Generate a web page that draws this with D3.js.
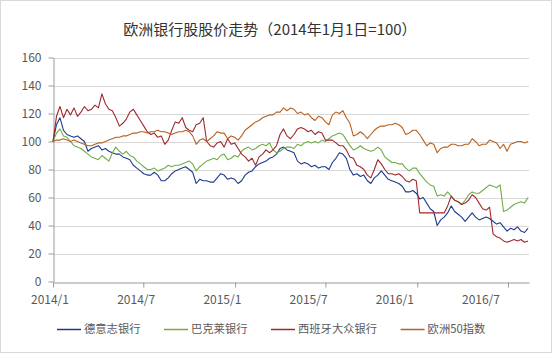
<!DOCTYPE html>
<html>
<head>
<meta charset="utf-8">
<script src="https://cdn.jsdelivr.net/npm/d3@7"></script>
<style>
  body { margin: 0; background: #fff; }
  text { font-family: "Noto Sans CJK SC", "Noto Sans", sans-serif; }
</style>
</head>
<body>
<div id="chart"></div>
<script>
// weekly closes, rebased so that 2014/1/1 = 100
const startDate = "2014-01-01";
const endDate = "2016-08-12";
const tickDates = ["2014-01-01", "2014-07-01", "2015-01-01", "2015-07-01", "2016-01-01", "2016-07-01"];
const tickLabels = ["2014/1", "2014/7", "2015/1", "2015/7", "2016/1", "2016/7"];
const yTicks = [0, 20, 40, 60, 80, 100, 120, 140, 160];

const seriesNames = ["德意志银行", "巴克莱银行", "西班牙大众银行", "欧洲50指数"];
const seriesColors = ["#1f3a8f", "#70ad47", "#a0282c", "#b8601c"];

const deutsche = [
  100, 112, 117, 108, 105, 104, 103, 104, 102, 100, 93, 95, 96, 97, 94, 95, 93, 92, 91, 91,
  89, 88, 87, 83, 81, 79, 77, 76, 76, 78, 76, 72, 72, 74, 77,
  79, 80, 81, 82, 80, 78, 70, 73, 72, 72, 71, 71, 74, 77, 76, 73, 74, 73, 70, 72,
  76, 78, 79, 82, 84, 85, 86, 88, 89, 91, 95, 96, 94,
  93, 92, 86, 84, 85, 84, 82, 83, 81, 82, 82, 80, 85, 88, 92, 91, 88, 80, 76, 77,
  75, 76, 72, 70, 74, 76, 79, 76, 73, 72, 71, 70, 68, 64, 64,
  65, 63, 59, 60, 56, 52, 50, 40, 44, 46, 49, 54, 50, 48, 46, 43, 46, 49, 46, 44,
  45, 46, 45, 43, 41, 42, 39, 36, 38, 37, 39, 36, 35, 38
];
const barclays = [
  100, 106, 109, 104, 103, 100, 97, 96, 95, 93, 91, 89, 88, 87, 90, 88, 86, 92, 96, 93,
  91, 93, 90, 89, 86, 84, 82, 80, 80, 81, 79, 80, 81, 83, 82,
  83, 83, 84, 85, 86, 84, 79, 82, 84, 86, 87, 88, 87, 90, 91, 87, 88, 90, 89, 93,
  95, 96, 94, 95, 97, 98, 97, 99, 94, 92, 93, 95, 96,
  96, 95, 98, 97, 99, 100, 99, 100, 99, 101, 100, 102, 104, 105, 106, 105, 101, 97, 94, 95,
  97, 95, 94, 93, 94, 96, 94, 89, 87, 85, 85, 84, 84, 81, 79,
  81, 81, 77, 74, 71, 69, 68, 61, 62, 61, 64, 61, 58, 57, 55, 58, 62, 64, 63, 63,
  65, 67, 69, 68, 67, 69, 50, 51, 53, 55, 56, 57, 56, 60
];
const popular = [
  100, 118, 125, 117, 123, 119, 124, 118, 121, 125, 122, 123, 126, 124, 134, 127, 123, 122, 117, 111,
  113, 116, 121, 123, 119, 115, 111, 107, 105, 106, 103, 104, 98, 101, 108,
  114, 113, 117, 110, 108, 107, 112, 113, 117, 100, 97, 96, 99, 100, 96, 102, 98, 99, 95, 91,
  89, 86, 88, 83, 89, 91, 94, 92, 94, 97, 105, 109, 104,
  102, 105, 109, 110, 109, 107, 108, 105, 107, 106, 101, 101, 101, 99, 97, 97, 94, 89, 88, 83,
  82, 80, 76, 74, 80, 87, 84, 80, 77, 77, 76, 77, 75, 72, 71,
  73, 72, 49, 49, 49, 49, 49, 49, 49, 49, 54, 61, 58, 57, 55, 56, 58, 62, 60, 56,
  52, 51, 53, 34, 32, 31, 29, 28, 29, 30, 29, 30, 28, 29
];
const stoxx50 = [
  100, 101, 101, 102, 101, 100, 101, 100, 99, 98, 97, 97, 98, 99, 99, 100, 101, 102, 103, 103,
  104, 104, 105, 106, 106, 107, 107, 106, 107, 107, 108, 107, 107, 106, 105,
  106, 107, 107, 108, 107, 104, 98, 101, 102, 100, 102, 104, 107, 106, 106, 102, 104, 103, 101, 104,
  108, 110, 112, 114, 115, 117, 118, 119, 119, 121, 121, 124, 122,
  124, 123, 120, 121, 119, 120, 117, 115, 118, 117, 114, 112, 119, 121, 120, 122, 117, 113, 104, 105,
  107, 105, 102, 105, 108, 110, 111, 111, 112, 112, 113, 112, 110, 105, 106,
  108, 108, 105, 101, 97, 99, 98, 92, 95, 96, 96, 98, 98, 97, 97, 98, 98, 102, 100, 97,
  98, 98, 101, 100, 99, 95, 98, 93, 98, 99, 100, 100, 99, 100
];

const width = 552, height = 353;
const parse = d3.timeParse("%Y-%m-%d");
const start = parse(startDate);

const series = [deutsche, barclays, popular, stoxx50].map((vals, i) => ({
  name: seriesNames[i],
  color: seriesColors[i],
  values: vals.map((v, j) => ({ date: d3.timeDay.offset(start, 7 * j), value: v }))
}));

const x = d3.scaleTime().domain([start, parse(endDate)]).range([53, 529]);
const y = d3.scaleLinear().domain([0, 160]).range([281.5, 57.5]);
// the category labels sit a bit left of their ticks in the original
const xLab = d3.scalePoint().domain(tickLabels).range([50, 481]);

const svg = d3.select("#chart").append("svg")
  .attr("width", width)
  .attr("height", height)
  .attr("font-family", "'Noto Sans CJK SC', sans-serif");

svg.append("rect")
  .attr("x", 0.5).attr("y", 0.5)
  .attr("width", width - 1).attr("height", height - 1)
  .attr("fill", "#fff").attr("stroke", "#d9d9d9");

svg.append("text")
  .attr("x", 270).attr("y", 30)
  .attr("dy", "0.35em")
  .attr("text-anchor", "middle")
  .attr("font-size", 15)
  .attr("fill", "#333")
  .text("欧洲银行股股价走势（2014年1月1日=100）");

// gridlines
svg.append("g")
  .selectAll("line")
  .data(yTicks.filter(d => d > 0))
  .join("line")
  .attr("x1", x.range()[0]).attr("x2", x.range()[1])
  .attr("y1", d => Math.round(y(d)) + 0.5).attr("y2", d => Math.round(y(d)) + 0.5)
  .attr("stroke", "#d9d9d9");

// y axis
const yAxis = svg.append("g")
  .attr("transform", "translate(53.5,0)")
  .call(d3.axisLeft(y).tickValues(yTicks).tickSize(5).tickSizeOuter(0).tickPadding(7));
yAxis.select(".domain").attr("stroke", "#999");
yAxis.selectAll(".tick line").attr("stroke", "#999");
yAxis.selectAll(".tick text")
  .attr("font-size", 12)
  .attr("fill", "#595959")
  .attr("font-family", "'Noto Sans CJK SC', sans-serif");

// x axis: ticks from the date scale, labels from their own point scale
const xAxis = svg.append("g")
  .attr("transform", `translate(0,${Math.round(y(0)) + 0.5})`)
  .call(d3.axisBottom(x).tickValues(tickDates.map(parse)).tickSize(5).tickSizeOuter(0).tickFormat(""));
xAxis.select(".domain").attr("stroke", "#999");
xAxis.selectAll(".tick line").attr("stroke", "#999");

svg.append("g")
  .selectAll("text")
  .data(tickLabels)
  .join("text")
  .attr("x", d => xLab(d))
  .attr("y", 300)
  .attr("dy", "0.35em")
  .attr("text-anchor", "middle")
  .attr("font-size", 12)
  .attr("fill", "#595959")
  .text(d => d);

// lines
const line = d3.line()
  .x(d => x(d.date))
  .y(d => y(d.value));

svg.append("g")
  .selectAll("path")
  .data(series)
  .join("path")
  .attr("fill", "none")
  .attr("stroke", d => d.color)
  .attr("stroke-width", 1.1)
  .attr("stroke-linejoin", "round")
  .attr("d", d => line(d.values));

// legend
const legend = svg.append("g");
const items = legend.selectAll("g")
  .data(series)
  .join("g");
items.append("line")
  .attr("x1", 0).attr("x2", 24)
  .attr("y1", 0.5).attr("y2", 0.5)
  .attr("stroke", d => d.color)
  .attr("stroke-width", 1.5);
items.append("text")
  .attr("x", 27)
  .attr("dy", "0.35em")
  .attr("font-size", 11.3)
  .attr("fill", "#595959")
  .text(d => d.name);

let pos = 0;
items.each(function () {
  const g = d3.select(this);
  g.attr("transform", `translate(${pos},329)`);
  pos += 27 + g.select("text").node().getComputedTextLength() + 23.5;
});
const legendWidth = pos - 23.5;
legend.attr("transform", `translate(${Math.round(271 - legendWidth / 2)},0)`);
</script>
</body>
</html>
